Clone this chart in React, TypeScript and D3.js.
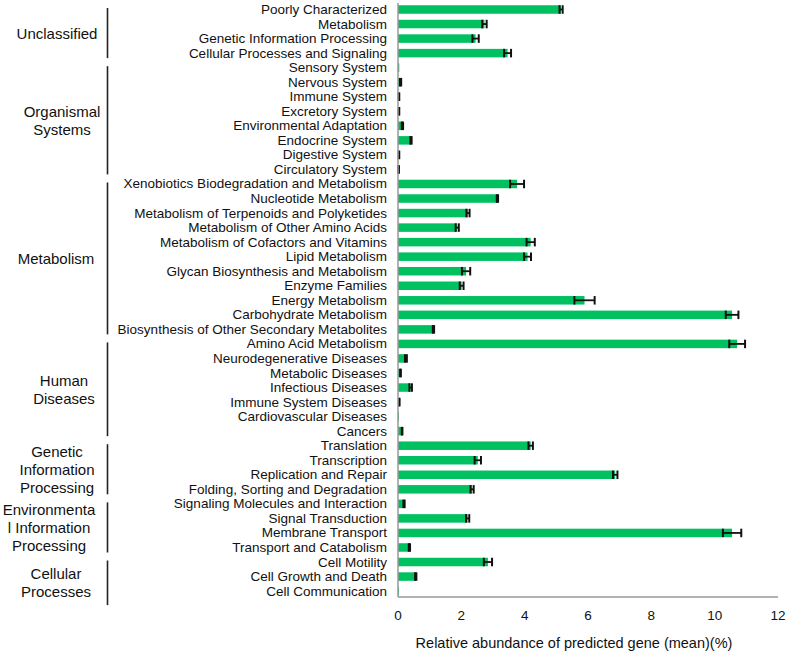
import React from "react";
import * as d3 from "d3";

const categories = [
  "Poorly Characterized", "Metabolism", "Genetic Information Processing", "Cellular Processes and Signaling",
  "Sensory System", "Nervous System", "Immune System", "Excretory System", "Environmental Adaptation",
  "Endocrine System", "Digestive System", "Circulatory System",
  "Xenobiotics Biodegradation and Metabolism", "Nucleotide Metabolism", "Metabolism of Terpenoids and Polyketides",
  "Metabolism of Other Amino Acids", "Metabolism of Cofactors and Vitamins", "Lipid Metabolism",
  "Glycan Biosynthesis and Metabolism", "Enzyme Families", "Energy Metabolism", "Carbohydrate Metabolism",
  "Biosynthesis of Other Secondary Metabolites", "Amino Acid Metabolism",
  "Neurodegenerative Diseases", "Metabolic Diseases", "Infectious Diseases", "Immune System Diseases",
  "Cardiovascular Diseases", "Cancers",
  "Translation", "Transcription", "Replication and Repair", "Folding, Sorting and Degradation",
  "Signaling Molecules and Interaction", "Signal Transduction", "Membrane Transport", "Transport and Catabolism",
  "Cell Motility", "Cell Growth and Death", "Cell Communication",
];

const means = [
  5.15, 2.73, 2.45, 3.46,
  0.04, 0.08, 0.03, 0.03, 0.14, 0.41, 0.03, 0.02,
  3.76, 3.14, 2.21, 1.87, 4.19, 4.09, 2.15, 2.01, 5.89, 10.55, 1.12, 10.71,
  0.25, 0.08, 0.40, 0.04, 0.03, 0.13,
  4.19, 2.52, 6.86, 2.34,
  0.19, 2.2, 10.55, 0.36,
  2.84, 0.56, 0.03,
];

const errors = [
  0.05, 0.07, 0.1, 0.11,
  0.0, 0.02, 0.01, 0.01, 0.02, 0.02, 0.01, 0.01,
  0.22, 0.02, 0.05, 0.05, 0.13, 0.11, 0.13, 0.06, 0.32, 0.2, 0.02, 0.25,
  0.03, 0.01, 0.04, 0.01, 0.0, 0.01,
  0.07, 0.1, 0.07, 0.05,
  0.02, 0.05, 0.29, 0.02,
  0.13, 0.02, 0.0,
];

const groupNames = [
  ["Unclassified"],
  ["Organismal", "Systems"],
  ["Metabolism"],
  ["Human", "Diseases"],
  ["Genetic", "Information", "Processing"],
  ["Environmenta", "l Information", "Processing"],
  ["Cellular", "Processes"],
];
const groupSizes = [4, 8, 11, 7, 4, 4, 3];

const xTicks = [0, 2, 4, 6, 8, 10, 12];
const xTitle = "Relative abundance of predicted gene (mean)(%)";

const groupLabelX = [57, 62, 56, 64, 57, 49, 56];

export default function App() {
  const W = 787, H = 655;
  const x = d3.scaleLinear().domain([0, 12]).range([398, 778]);
  const pi = 0.415;
  const y = d3.scaleBand<string>().domain(categories).range([2.23, 598.37]).paddingInner(pi).paddingOuter(pi / 2);
  const bw = y.bandwidth();
  const cy = (c: string) => (y(c) as number) + bw / 2;
  const font = "'Liberation Sans', Arial, Helvetica, sans-serif";
  const green = "#00c060";

  let start = 0;
  const groups = groupSizes.map((n, i) => {
    const first = categories[start];
    const last = categories[start + n - 1];
    start += n;
    const top = cy(first) - 1.5;
    const bottom = i === groupSizes.length - 1 ? cy(last) + 14 : cy(last) + 5;
    return { lines: groupNames[i], top, bottom, lx: groupLabelX[i] };
  });

  const axisBottom = 597;

  return (
    <svg width={W} height={H} style={{ position: "absolute", left: 0, top: 0, background: "#fff" }} fontFamily={font}>
      <rect x={0} y={0} width={W} height={H} fill="#fff" />
      {/* bars */}
      {categories.map((c, i) => (
        <rect key={c} x={x(0)} y={y(c)} width={Math.max(0, x(means[i]) - x(0))} height={bw} fill={green} />
      ))}
      {/* error bars */}
      {categories.map((c, i) => {
        const e = errors[i];
        const m = means[i];
        if (e <= 0) return null;
        const yc = cy(c);
        const x1 = x(m - e), x2 = x(m + e);
        return (
          <g key={"e" + c} stroke="#111">
            <line x1={x1} x2={x2} y1={yc} y2={yc} strokeWidth={1.8} />
            <line x1={x1} x2={x1} y1={yc - bw / 2} y2={yc + bw / 2} strokeWidth={2} />
            <line x1={x2} x2={x2} y1={yc - bw / 2} y2={yc + bw / 2} strokeWidth={2} />
          </g>
        );
      })}
      {/* axes */}
      <line x1={x(0)} x2={x(0)} y1={3} y2={axisBottom} stroke="#999" strokeWidth={1.5} />
      <line x1={x(0)} x2={x(12)} y1={axisBottom} y2={axisBottom} stroke="#999" strokeWidth={1.5} />
      {xTicks.map((t) => (
        <text key={t} x={x(t)} y={615} textAnchor="middle" dominantBaseline="central" fontSize={13.5} fill="#111">
          {t}
        </text>
      ))}
      <text x={574} y={643} textAnchor="middle" dominantBaseline="central" fontSize={14.5} fill="#111">
        {xTitle}
      </text>
      {/* category labels */}
      {categories.map((c) => (
        <text key={"l" + c} x={387} y={cy(c)} textAnchor="end" dominantBaseline="central" fontSize={13.5} fill="#111">
          {c}
        </text>
      ))}
      {/* group brackets */}
      {groups.map((g, i) => {
        const mid = (g.top + g.bottom) / 2;
        const lh = 18;
        const y0 = mid - ((g.lines.length - 1) * lh) / 2;
        return (
          <g key={"g" + i}>
            <line x1={107.5} x2={107.5} y1={g.top} y2={g.bottom} stroke="#222" strokeWidth={1.6} />
            {g.lines.map((t, j) => (
              <text key={j} x={g.lx} y={y0 + j * lh} textAnchor="middle" dominantBaseline="central" fontSize={15} fill="#111">
                {t}
              </text>
            ))}
          </g>
        );
      })}
    </svg>
  );
}
